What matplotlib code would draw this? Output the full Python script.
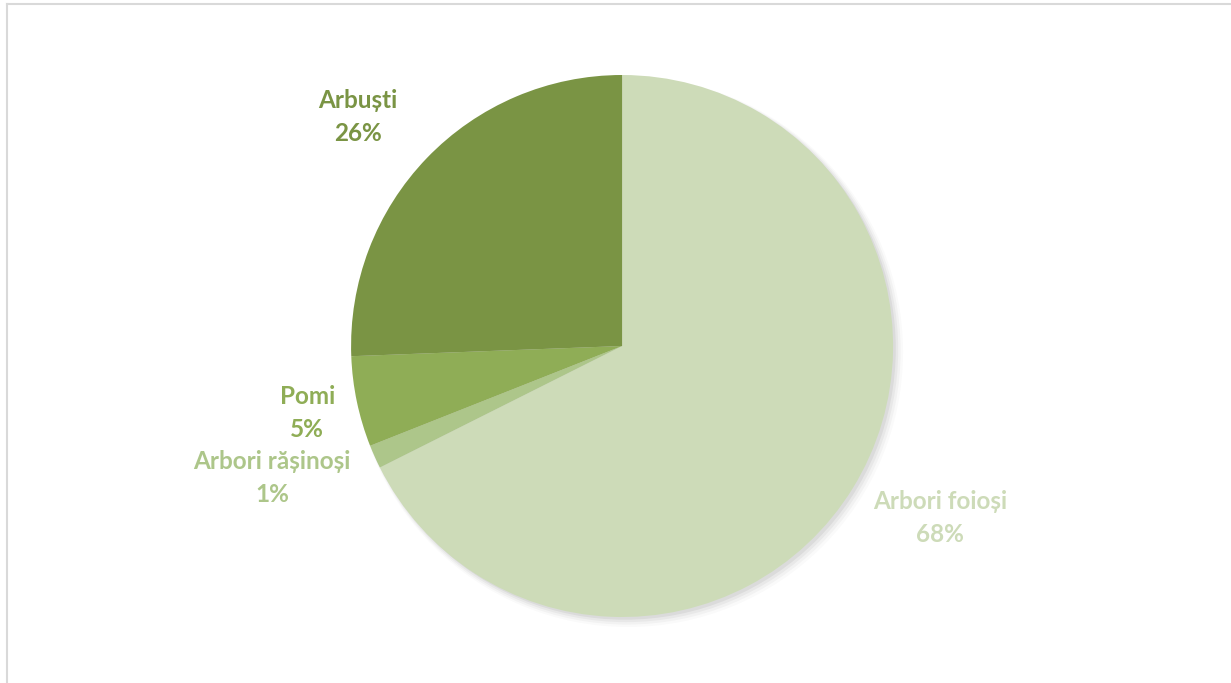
import matplotlib.pyplot as plt
from matplotlib.lines import Line2D

categories = ['Arbori foioși', 'Arbori rășinoși', 'Pomi', 'Arbuști']
shares = [67.6, 1.4, 5.4, 25.6]
colors = ['#cddbb8', '#adc68a', '#8fad56', '#7a9444']
label_pos = [(1.173, -0.635), (-1.292, -0.487), (-1.162, -0.247), (-0.974, 0.845)]

fig = plt.figure(figsize=(12.31, 6.83), dpi=100)
ax = fig.add_axes([0.5053 - 0.2201, 0.4934 - 0.3968, 0.4403, 0.7936])

# soft shadow behind the pie
for i, a in enumerate([0.05, 0.04, 0.03, 0.02]):
    shadow = plt.Circle((0.010 + i * 0.004, -0.010 - i * 0.004), 1.0 + i * 0.005,
                        color='black', alpha=a, zorder=0, linewidth=0, clip_on=False)
    ax.add_patch(shadow)

wedges, _ = ax.pie(shares, colors=colors, startangle=90, counterclock=False,
                   wedgeprops=dict(linewidth=0))
for w in wedges:
    w.set_zorder(1)

for name, val, col, (x, y) in zip(categories, shares, colors, label_pos):
    ax.text(x, y, f'{name}\n{val:.0f}%', ha='center', va='center', color=col,
            fontsize=17.5, fontweight='bold', family='Lato', linespacing=1.5)

ax.set_xlim(-1, 1)
ax.set_ylim(-1, 1)
ax.set_aspect('equal')
ax.axis('off')

# chart frame (top and left edges visible)
fig.add_artist(Line2D([7 / 1231, 7 / 1231], [0, 1 - 4 / 683], color='#d9d9d9', lw=1.5))
fig.add_artist(Line2D([7 / 1231, 1], [1 - 4 / 683, 1 - 4 / 683], color='#d9d9d9', lw=1.5))

fig.savefig('out.png', dpi=100)
